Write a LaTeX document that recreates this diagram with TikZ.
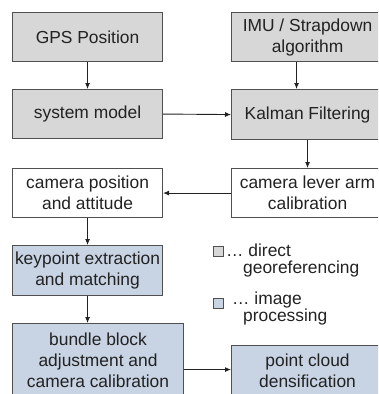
\documentclass[tikz,border=0pt]{standalone}
\usepackage{fontspec}
\setmainfont{Liberation Sans}
\usetikzlibrary{arrows.meta}
\definecolor{boxgray}{HTML}{D7D7D7}
\definecolor{boxblue}{HTML}{C8D3E3}
\definecolor{edgegray}{HTML}{505050}
\definecolor{txt}{HTML}{222222}
\begin{document}
\begin{tikzpicture}[x=1pt,y=-1pt,
  box/.style={draw=edgegray,line width=1.1pt,anchor=north west,inner sep=0pt,
    align=center,text=txt,font=\fontsize{17.4}{21}\selectfont},
  gbox/.style={box,fill=boxgray},
  wbox/.style={box,fill=white},
  bbox/.style={box,fill=boxblue},
  arr/.style={draw=txt,line width=0.9pt,-{Latex[length=6pt,width=5pt]}},
  leg/.style={anchor=base west,inner sep=0pt,text=txt,font=\fontsize{17.4}{21}\selectfont},
  legsq/.style={draw=edgegray,line width=0.9pt,anchor=north west,inner sep=0pt,minimum width=10pt,minimum height=10pt}
]
\useasboundingbox (0,0) rectangle (378,394);
\clip (0,0) rectangle (378,394);
\fill[white] (0,0) rectangle (378,394);

\node[gbox,minimum width=150pt,minimum height=49pt] (gps) at (12,12) {GPS Position};
\node[gbox,minimum width=152pt,minimum height=49pt] (imu) at (231,12) {IMU / Strapdown\\algorithm};
\node[gbox,minimum width=150pt,minimum height=49pt] (sys) at (12,89) {system model};
\node[gbox,minimum width=152pt,minimum height=50pt] (kal) at (231,89) {Kalman Filtering};
\node[wbox,minimum width=150pt,minimum height=49pt] (cam) at (12,168) {camera position\\and attitude};
\node[wbox,minimum width=152pt,minimum height=49pt] (lev) at (231,168) {camera lever arm\\calibration};
\node[bbox,minimum width=150pt,minimum height=50pt] (key) at (12,245) {keypoint extraction\\and matching};
\node[bbox,minimum width=171pt,minimum height=73pt] (bun) at (12,323) {bundle block\\adjustment and\\camera calibration};
\node[bbox,minimum width=152pt,minimum height=51pt] (pc) at (231,345) {point cloud\\densification};

\draw[arr] (gps.south) -- (sys.north);
\draw[arr] ([xshift=-11pt]imu.south) -- ([xshift=-11pt]kal.north);
\draw[arr] (sys.east) -- (kal.west);
\draw[arr] (kal.south) -- (lev.north);
\draw[arr] (lev.west) -- (cam.east);
\draw[arr] (cam.south) -- (key.north);
\draw[arr] (key.south) -- (key.south |- bun.north);
\draw[arr] ([yshift=1.5pt]bun.east |- pc.west) -- ([yshift=1.5pt]pc.west);

\node[legsq,fill=boxgray] (sq1) at (213,246) {};
\node[leg] (l1a) at (226,256) {\ldots{} direct};
\node[leg] (l1b) at (243,273) {georeferencing};
\node[legsq,fill=boxblue] (sq2) at (213,297.5) {};
\node[leg] (l2a) at (232,304.5) {\ldots{} image};
\node[leg] (l2b) at (243,321) {processing};
\end{tikzpicture}
\end{document}
